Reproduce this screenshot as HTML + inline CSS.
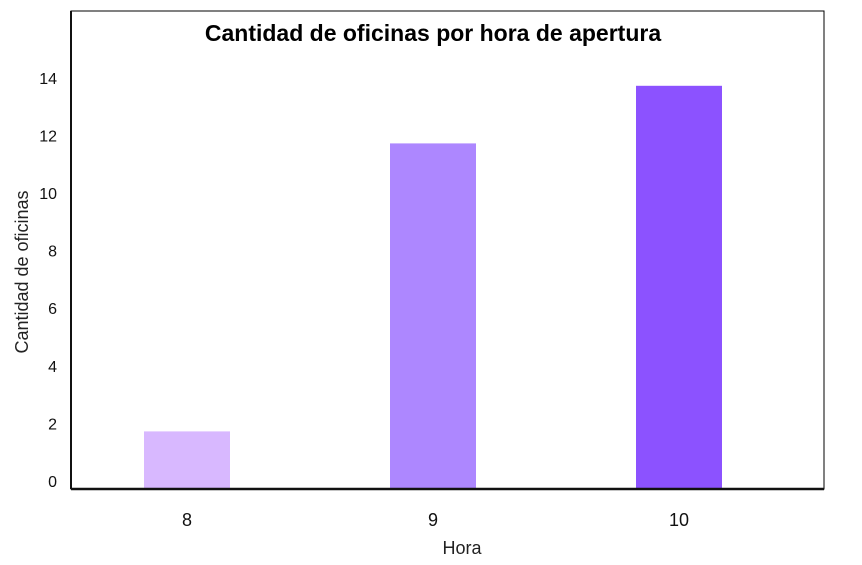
<!DOCTYPE html>
<html><head><meta charset="utf-8"><style>
body{margin:0;background:#fff;font-family:"Liberation Sans",sans-serif;}
svg{display:block}
</style></head><body>
<svg id="chart" width="862" height="565">
<rect x="0" y="0" width="862" height="565" fill="#fff"/>
<rect x="71" y="11" width="753" height="478" fill="none" stroke="#000" stroke-width="1"/>
<text x="433" y="41" text-anchor="middle" font-size="23" font-weight="bold" fill="#000">Cantidad de oficinas por hora de apertura</text>
<text x="462" y="554" text-anchor="middle" font-size="18" fill="#222">Hora</text>
<text transform="translate(28,272) rotate(-90)" text-anchor="middle" font-size="18" fill="#222">Cantidad de oficinas</text>
<g id="marks"></g>
<line x1="71" y1="489" x2="824" y2="489" stroke="#111" stroke-width="2.5"/>
<line x1="71" y1="11" x2="71" y2="489" stroke="#111" stroke-width="2"/>
</svg>
<script>
const categories = ["8", "9", "10"];
const values = [2, 12, 14];
const colors = ["#d8b8ff", "#ad87ff", "#8c52ff"];
const yTicks = [0, 2, 4, 6, 8, 10, 12, 14];

const y0 = 489, unit = 28.8;
function y(v){ return y0 - v * unit; }
function xc(i){ return 187 + i * 246; }
const barW = 86;
const ns = "http://www.w3.org/2000/svg";
const g = document.getElementById("marks");
categories.forEach((c, i) => {
  const r = document.createElementNS(ns, "rect");
  r.setAttribute("x", xc(i) - barW / 2);
  r.setAttribute("y", y(values[i]));
  r.setAttribute("width", barW);
  r.setAttribute("height", y0 - y(values[i]));
  r.setAttribute("fill", colors[i]);
  
  
  g.appendChild(r);
  const t = document.createElementNS(ns, "text");
  t.setAttribute("x", xc(i));
  t.setAttribute("y", 526);
  t.setAttribute("text-anchor", "middle");
  t.setAttribute("font-size", "18");
  t.setAttribute("fill", "#111");
  t.textContent = c;
  
  
  g.appendChild(t);
});
yTicks.forEach(v => {
  const t = document.createElementNS(ns, "text");
  t.setAttribute("x", 57);
  t.setAttribute("y", y(v) - 2);
  t.setAttribute("text-anchor", "end");
  t.setAttribute("font-size", "16");
  t.setAttribute("fill", "#111");
  t.textContent = v;
  
  
  g.appendChild(t);
});
</script>
</body></html>
